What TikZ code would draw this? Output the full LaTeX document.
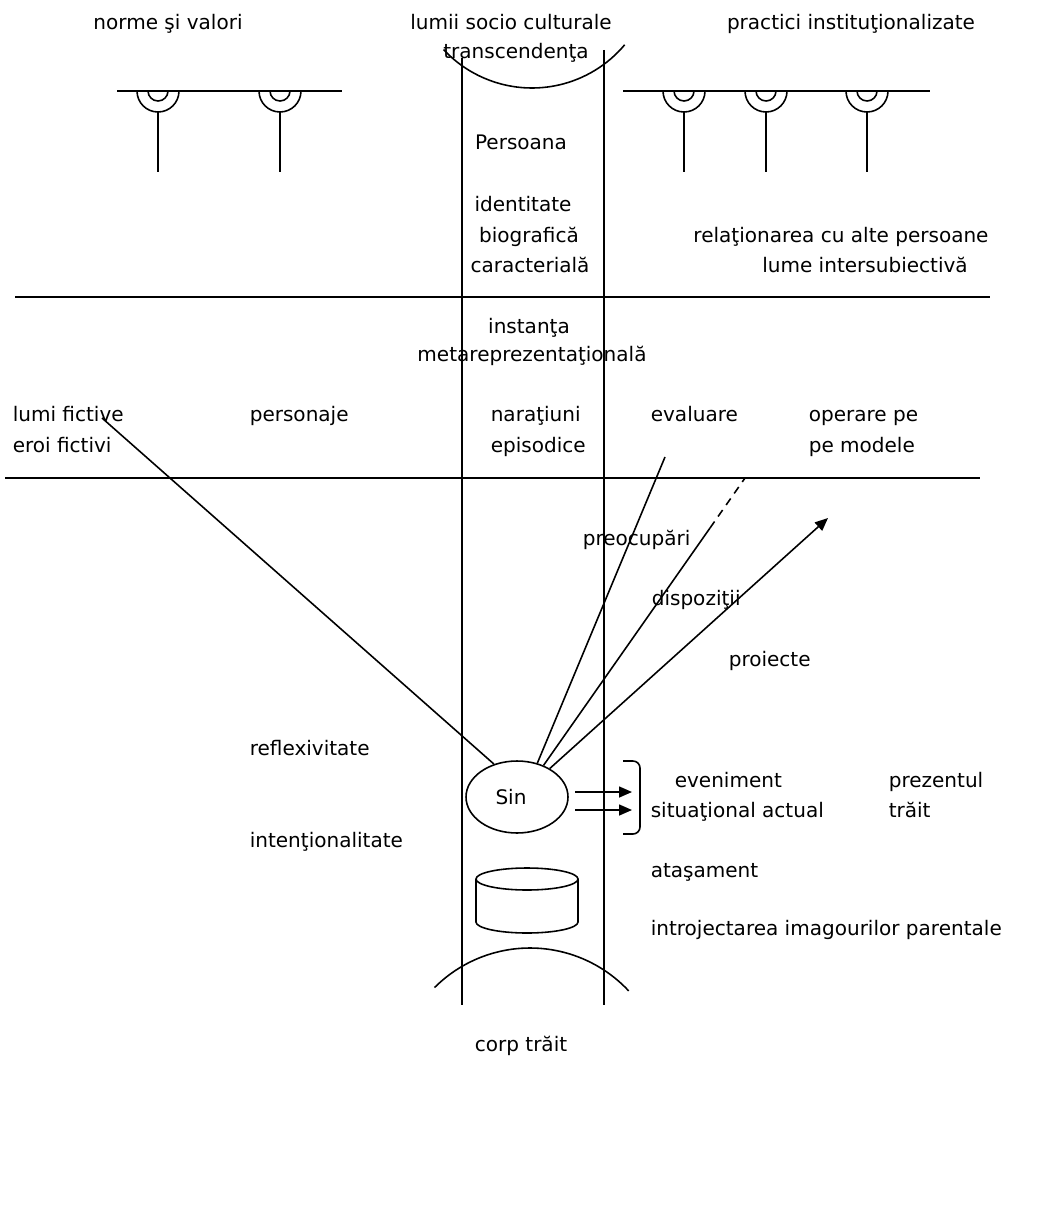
\documentclass[tikz,border=0pt]{standalone}
\usepackage{fontspec}
\setmainfont{DejaVu Sans}
\usetikzlibrary{shapes.geometric,arrows.meta}

\begin{document}
\begin{tikzpicture}[x=0.02cm,y=-0.02cm,line width=0.9pt,
    lbl/.style={inner sep=0pt,font=\fontsize{11.4}{13}\selectfont},
    lw/.style={lbl,anchor=base west},
    lc/.style={lbl,anchor=base},
    tip/.style={-{Triangle[length=2.6mm,width=2.2mm]}}]
    \useasboundingbox (0,0) rectangle (1036,1209);
    \draw (462,58) -- (462,1005);
    \draw (604,50) -- (604,1005);
    \draw (15,297) -- (990,297);
    \draw (5,478) -- (980,478);
    \draw (532,-33) ++(137:121) arc (137:40:121);
    \draw (530,1083) ++(225:135) arc (225:317:135);
    \draw (117,91) -- (342,91);
    \draw (623,91) -- (930,91);
    \foreach \sx in {158,280,684,766,867}{
        \draw (\sx-21,91) arc (180:0:21);
        \draw (\sx-10,91) arc (180:0:10);
        \draw (\sx,112) -- (\sx,172);
    }
    \node[lc] (norme) at (168,30) {norme şi valori};
    \node[lc] (lumii) at (511,30) {lumii socio culturale};
    \node[lc] (transc) at (516,59) {transcendenţa};
    \node[lc] (practici) at (851,30) {practici instituţionalizate};
    \node[lc] (pers) at (521,150) {Persoana};
    \node[lc] (ident) at (523,212) {identitate};
    \node[lc] (biogr) at (529,243) {biografică};
    \node[lc] (caract) at (530,273) {caracterială};
    \node[lc] (relat) at (841,243) {relaţionarea cu alte persoane};
    \node[lc] (inters) at (865,273) {lume intersubiectivă};
    \node[lc] (inst) at (529,333) {instanţa};
    \node[lc] (meta) at (532,361) {metareprezentaţională};
    \node[lw] (lumif) at (12,421) {lumi fictive};
    \node[lw] (eroi) at (12,452) {eroi fictivi};
    \node[lw] (persj) at (249,421) {personaje};
    \node[lw] (narat) at (490,421) {naraţiuni};
    \node[lw] (episod) at (490,452) {episodice};
    \node[lw] (evalu) at (650,421) {evaluare};
    \node[lw] (oper) at (808,421) {operare pe};
    \node[lw] (model) at (808,452) {pe modele};
    \node[lw] (preoc) at (582,545) {preocupări};
    \node[lw] (dispoz) at (651,605) {dispoziţii};
    \node[lw] (proiect) at (728,666) {proiecte};
    \node[lw] (reflex) at (249,755) {reflexivitate};
    \node[lw] (intent) at (249,847) {intenţionalitate};
    \node[lw] (even) at (674,787) {eveniment};
    \node[lw] (situat) at (650,817) {situaţional actual};
    \node[lw] (prez) at (888,787) {prezentul};
    \node[lw] (trait) at (888,817) {trăit};
    \node[lw] (atas) at (650,877) {ataşament};
    \node[lw] (introj) at (650,935) {introjectarea imagourilor parentale};
    \node[lc] (corp) at (521,1051) {corp trăit};
    \node[draw,ellipse,inner sep=0pt,minimum width=2.04cm,minimum height=1.44cm] (sin) at (517,797) {};
    \node[lbl] (sintxt) at (511,797) {Sin};
    \draw (476,879) -- (476,922) arc (180:0:51 and 11) -- (578,879);
    \draw (527,879) ellipse [x radius=51,y radius=11];
    \coordinate (fict) at (102,418);
    \coordinate (eval) at (665,457);
    \coordinate (dmid) at (710,528);
    \coordinate (dsp) at (745,478);
    \coordinate (proj) at (828,518);
    \draw (sin.125) -- (fict);
    \draw (sin.59) -- (eval);
    \draw (sin.50) -- (dmid);
    \draw[dash pattern=on 4.5pt off 3.5pt] (dmid) -- (dsp);
    \draw[tip] (sin.41) -- (proj);
    \coordinate (a1) at (575,792);
    \coordinate (b1) at (632,792);
    \coordinate (a2) at (575,810);
    \coordinate (b2) at (632,810);
    \draw[tip] (a1) -- (b1);
    \draw[tip] (a2) -- (b2);
    \draw[rounded corners=4pt] (623,761) -- (640,761) -- (640,834) -- (623,834);
\end{tikzpicture}
\end{document}
